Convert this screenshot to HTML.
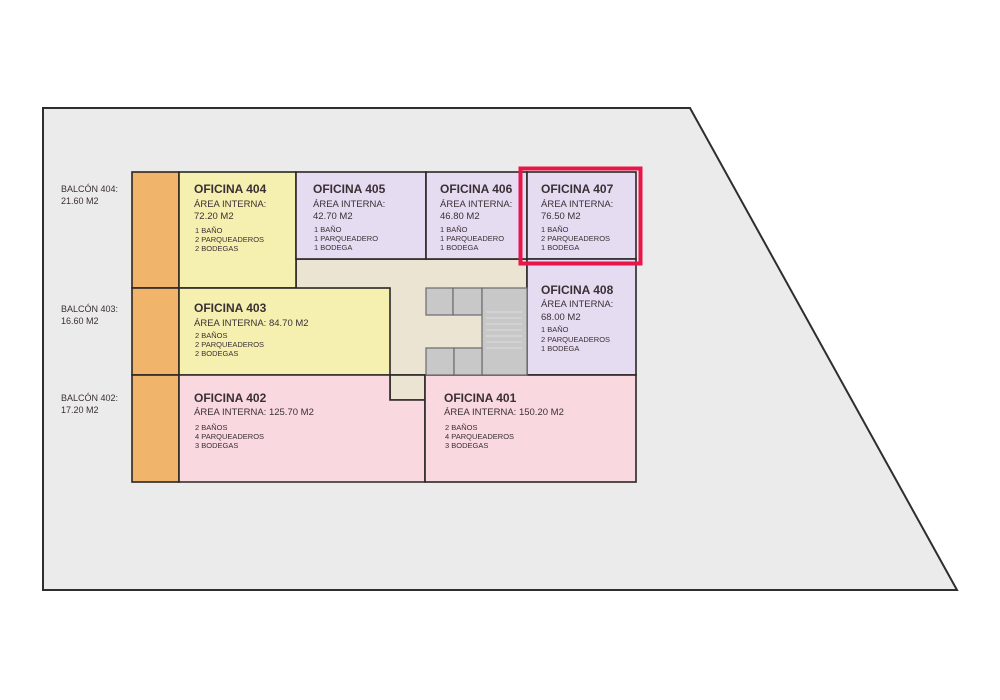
<!DOCTYPE html>
<html><head><meta charset="utf-8"><style>
html,body{margin:0;padding:0;background:#fff;width:1000px;height:700px;overflow:hidden}
svg text{font-family:"Liberation Sans",sans-serif;fill:#3a3034}
.t{font-size:12px;font-weight:bold}
.a{font-size:9.5px}
.s{font-size:7.5px}
.b{font-size:9px}
</style></head><body>
<svg width="1000" height="700" viewBox="0 0 1000 700">
<polygon points="43,108 690,108 957,590 43,590" fill="#ebebeb" stroke="#2e2e2e" stroke-width="2"/>
<g stroke="#2a2626" stroke-width="1.6">
<rect x="296" y="259" width="231" height="116" fill="#ece4d2"/>
<rect x="390" y="375" width="35" height="25" fill="#ece4d2"/>
<rect x="132" y="172" width="47" height="116" fill="#f0b46a"/>
<rect x="132" y="288" width="47" height="87" fill="#f0b46a"/>
<rect x="132" y="375" width="47" height="107" fill="#f0b46a"/>
<rect x="179" y="172" width="117" height="116" fill="#f5f0b0"/>
<rect x="179" y="288" width="211" height="87" fill="#f5f0b0"/>
<rect x="296" y="172" width="130" height="87" fill="#e6dcf2"/>
<rect x="426" y="172" width="101" height="87" fill="#e6dcf2"/>
<rect x="527" y="172" width="109" height="87" fill="#e6dcf2"/>
<rect x="527" y="259" width="109" height="116" fill="#e6dcf2"/>
<polygon points="179,375 390,375 390,400 425,400 425,482 179,482" fill="#f9d8df"/>
<rect x="425" y="375" width="211" height="107" fill="#f9d8df"/>
</g>
<g fill="#c8c8c8" stroke="#6a6a6a" stroke-width="1.2">
<rect x="426" y="288" width="27" height="27"/>
<rect x="453" y="288" width="29" height="27"/>
<rect x="482" y="288" width="45" height="87"/>
<rect x="426" y="348" width="28" height="27"/>
<rect x="454" y="348" width="28" height="27"/>
</g>
<g stroke="#dcdcdc" stroke-width="1">
<line x1="486" y1="312" x2="522" y2="312"/><line x1="486" y1="318" x2="522" y2="318"/><line x1="486" y1="324" x2="522" y2="324"/><line x1="486" y1="330" x2="522" y2="330"/><line x1="486" y1="336" x2="522" y2="336"/><line x1="486" y1="342" x2="522" y2="342"/><line x1="486" y1="348" x2="522" y2="348"/>
</g>
<rect x="520.5" y="168.5" width="120" height="95" fill="none" stroke="#e8154a" stroke-width="4"/>
<text class="b" x="61" y="192">BALCÓN 404:</text><text class="b" x="61" y="204">21.60 M2</text>
<text class="b" x="61" y="312">BALCÓN 403:</text><text class="b" x="61" y="324">16.60 M2</text>
<text class="b" x="61" y="401">BALCÓN 402:</text><text class="b" x="61" y="413">17.20 M2</text>
<g>
<text class="t" x="194" y="193">OFICINA 404</text><text class="a" x="194" y="207">ÁREA INTERNA:</text><text class="a" x="194" y="219">72.20 M2</text>
<text class="s" x="195" y="233">1 BAÑO</text><text class="s" x="195" y="242">2 PARQUEADEROS</text><text class="s" x="195" y="251">2 BODEGAS</text>
<text class="t" x="313" y="193">OFICINA 405</text><text class="a" x="313" y="207">ÁREA INTERNA:</text><text class="a" x="313" y="219">42.70 M2</text>
<text class="s" x="314" y="232">1 BAÑO</text><text class="s" x="314" y="241">1 PARQUEADERO</text><text class="s" x="314" y="250">1 BODEGA</text>
<text class="t" x="440" y="193">OFICINA 406</text><text class="a" x="440" y="207">ÁREA INTERNA:</text><text class="a" x="440" y="219">46.80 M2</text>
<text class="s" x="440" y="232">1 BAÑO</text><text class="s" x="440" y="241">1 PARQUEADERO</text><text class="s" x="440" y="250">1 BODEGA</text>
<text class="t" x="541" y="193">OFICINA 407</text><text class="a" x="541" y="207">ÁREA INTERNA:</text><text class="a" x="541" y="219">76.50 M2</text>
<text class="s" x="541" y="232">1 BAÑO</text><text class="s" x="541" y="241">2 PARQUEADEROS</text><text class="s" x="541" y="250">1 BODEGA</text>
<text class="t" x="541" y="294">OFICINA 408</text><text class="a" x="541" y="307">ÁREA INTERNA:</text><text class="a" x="541" y="320">68.00 M2</text>
<text class="s" x="541" y="332">1 BAÑO</text><text class="s" x="541" y="342">2 PARQUEADEROS</text><text class="s" x="541" y="351">1 BODEGA</text>
<text class="t" x="194" y="312">OFICINA 403</text><text class="a" x="194" y="326">ÁREA INTERNA: 84.70 M2</text>
<text class="s" x="195" y="338">2 BAÑOS</text><text class="s" x="195" y="347">2 PARQUEADEROS</text><text class="s" x="195" y="356">2 BODEGAS</text>
<text class="t" x="194" y="402">OFICINA 402</text><text class="a" x="194" y="415">ÁREA INTERNA: 125.70 M2</text>
<text class="s" x="195" y="430">2 BAÑOS</text><text class="s" x="195" y="439">4 PARQUEADEROS</text><text class="s" x="195" y="448">3 BODEGAS</text>
<text class="t" x="444" y="402">OFICINA 401</text><text class="a" x="444" y="415">ÁREA INTERNA: 150.20 M2</text>
<text class="s" x="445" y="430">2 BAÑOS</text><text class="s" x="445" y="439">4 PARQUEADEROS</text><text class="s" x="445" y="448">3 BODEGAS</text>
</g>
</svg>
</body></html>
